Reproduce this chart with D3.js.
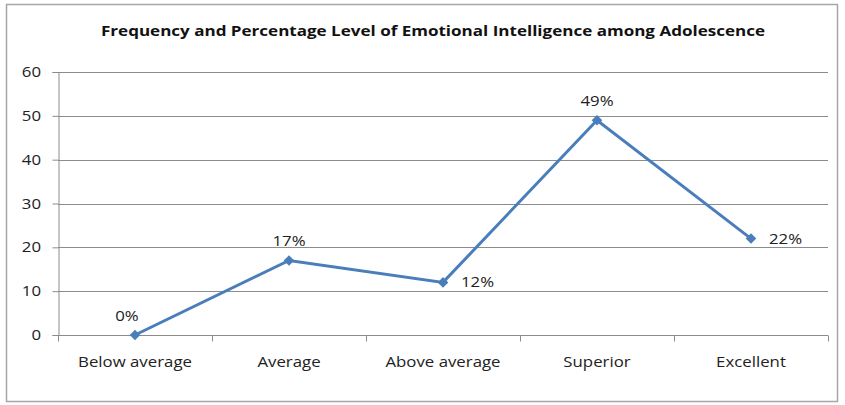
<!DOCTYPE html>
<html>
<head>
<meta charset="utf-8">
<script src="https://cdn.jsdelivr.net/npm/d3@7"></script>
<style>
body { margin: 0; background: #fff; }
svg text { font-family: "Open Sans", "Liberation Sans", sans-serif; }
</style>
</head>
<body>
<svg width="845" height="405"></svg>
<script>
// chart data
var categories = ['Below average', 'Average', 'Above average', 'Superior', 'Excellent'];
var values = [0, 17, 12, 49, 22];
var pointLabels = ['0%', '17%', '12%', '49%', '22%'];
var yTicks = [0, 10, 20, 30, 40, 50, 60];

var svg = d3.select('svg');
var SX = 1.2; // text in the original is a bit stretched sideways

function addText(g, tx, ty, str, anchor) {
  return g.append('text')
    .attr('transform', 'translate(' + tx + ',' + ty + ') scale(' + SX + ',1)')
    .attr('text-anchor', anchor || 'middle')
    .attr('font-size', 14).attr('fill', '#222').text(str);
}

// outer frame
svg.append('rect').attr('x', 6.5).attr('y', 4.5).attr('width', 831).attr('height', 397)
  .attr('fill', '#fff').attr('stroke', '#a6a6a6').attr('stroke-width', 1.5);

svg.append('text').attr('x', 433).attr('y', 36).attr('text-anchor', 'middle')
  .attr('font-size', 14).attr('font-weight', 'bold').attr('fill', '#111')
  .attr('textLength', 664).attr('lengthAdjust', 'spacingAndGlyphs')
  .text('Frequency and Percentage Level of Emotional Intelligence among Adolescence');

var x = d3.scaleBand().domain(categories).range([58, 828]);
var y = d3.scaleLinear().domain([0, 60]).range([335, 72]);

// gridlines
svg.append('g').selectAll('line').data(yTicks.slice(1)).join('line')
  .attr('x1', 58).attr('x2', 828)
  .attr('y1', function(d) { return Math.round(y(d)) + 0.5; })
  .attr('y2', function(d) { return Math.round(y(d)) + 0.5; })
  .attr('stroke', '#8c8c8c').attr('stroke-width', 1);

// y axis
var yAxis = svg.append('g').attr('transform', 'translate(58.5,0)')
  .call(d3.axisLeft(y).tickValues(yTicks).tickSize(6).tickFormat(''));
yAxis.select('.domain').attr('stroke', '#8c8c8c');
yAxis.selectAll('.tick line').attr('stroke', '#8c8c8c');
var yLab = svg.append('g');
yTicks.forEach(function(t) { addText(yLab, 41, y(t) + 5, String(t), 'end'); });

// x axis, ticks at category boundaries
var xAxis = svg.append('g').attr('transform', 'translate(0,' + (Math.round(y(0)) + 0.5) + ')');
xAxis.append('line').attr('x1', 58).attr('x2', 828).attr('stroke', '#8c8c8c');
var bounds = categories.map(function(c) { return x(c); }).concat([x.range()[1]]);
xAxis.selectAll('line.tk').data(bounds).join('line').attr('class', 'tk')
  .attr('x1', function(d) { return Math.round(d) + 0.5; })
  .attr('x2', function(d) { return Math.round(d) + 0.5; })
  .attr('y1', 0).attr('y2', 6).attr('stroke', '#8c8c8c');
categories.forEach(function(c) { addText(xAxis, x(c) + x.bandwidth() / 2, 31, c); });

// line
var pts = categories.map(function(c, i) { return [x(c) + x.bandwidth() / 2, y(values[i])]; });
svg.append('path').attr('d', d3.line()(pts)).attr('fill', 'none')
  .attr('stroke', '#4a7ebb').attr('stroke-width', 3);

svg.append('g').selectAll('path').data(pts).join('path')
  .attr('d', d3.symbol().type(d3.symbolSquare).size(56))
  .attr('transform', function(d) { return 'translate(' + d[0] + ',' + d[1] + ') rotate(45)'; })
  .attr('fill', '#4a7ebb');

// data labels (above for some, right for others)
var labelPos = ['above', 'above', 'right', 'above', 'right'];
var lab = svg.append('g');
pts.forEach(function(d, i) {
  if (labelPos[i] == 'right') addText(lab, d[0] + 18, d[1] + 5, pointLabels[i], 'start');
  else addText(lab, d[0] - (i == 0 ? 8 : 0), d[1] - 14, pointLabels[i]);
});
</script>
</body>
</html>
